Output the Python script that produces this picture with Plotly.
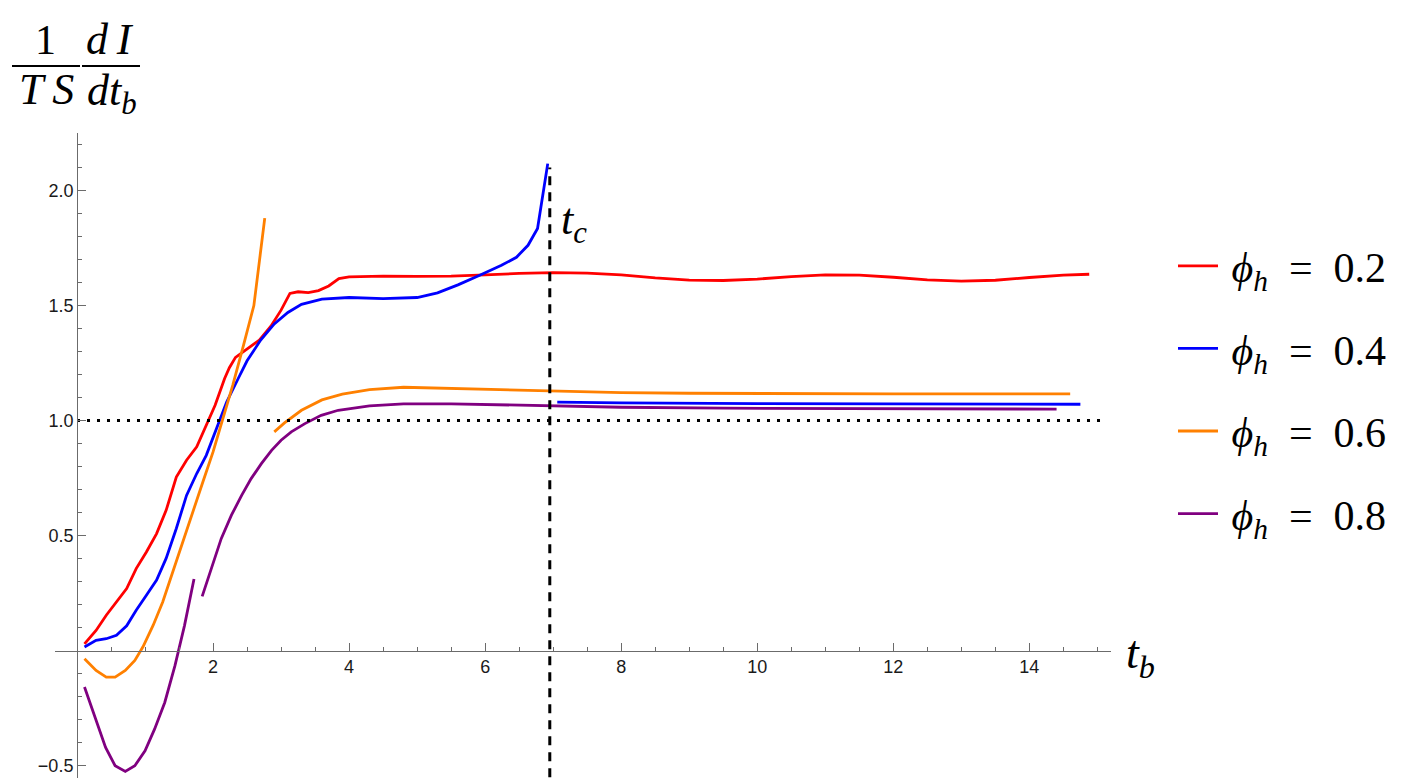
import plotly.graph_objects as go

# phi_h = 0.2
t_red = [0.11, 0.28, 0.43, 0.58, 0.73, 0.87, 1.02, 1.17, 1.31, 1.46, 1.61, 1.76, 1.90, 2.03,
         2.17, 2.24, 2.33, 2.5, 2.68, 2.85, 3.0, 3.13, 3.25, 3.4, 3.55, 3.7, 3.85, 4.0, 4.5,
         5.0, 5.5, 6.0, 6.5, 7.0, 7.5, 8.0, 8.5, 9.0, 9.5, 10.0, 10.5, 11.0, 11.5, 12.0,
         12.5, 13.0, 13.5, 14.0, 14.5, 14.88]
v_red = [0.030, 0.088, 0.154, 0.212, 0.270, 0.357, 0.429, 0.509, 0.610, 0.755, 0.828, 0.886,
         0.980, 1.067, 1.183, 1.23, 1.275, 1.31, 1.35, 1.41, 1.48, 1.553, 1.56, 1.556, 1.565,
         1.585, 1.617, 1.625, 1.628, 1.627, 1.628, 1.633, 1.64, 1.643, 1.641, 1.633, 1.62,
         1.611, 1.609, 1.615, 1.626, 1.633, 1.632, 1.623, 1.612, 1.606, 1.61, 1.622, 1.632, 1.636]

# phi_h = 0.4 (two branches)
t_blue = [0.11, 0.28, 0.43, 0.58, 0.73, 0.87, 1.02, 1.17, 1.31, 1.46, 1.61, 1.76, 1.90, 2.05,
          2.2, 2.37, 2.5, 2.7, 2.9, 3.1, 3.3, 3.6, 4.0, 4.5, 5.0, 5.3, 5.6, 5.92, 6.24, 6.46,
          6.63, 6.77, 6.92, None, 7.06, 8.0, 10.0, 12.0, 14.75]
v_blue = [0.016, 0.045, 0.052, 0.067, 0.108, 0.176, 0.241, 0.307, 0.401, 0.531, 0.675, 0.77,
          0.849, 0.965, 1.081, 1.183, 1.26, 1.35, 1.42, 1.47, 1.505, 1.528, 1.535, 1.53, 1.535,
          1.555, 1.59, 1.632, 1.675, 1.71, 1.762, 1.835, 2.117, None, 1.08, 1.077, 1.074,
          1.072, 1.071]

# phi_h = 0.6
t_orange = [0.11, 0.28, 0.43, 0.56, 0.71, 0.85, 0.97, 1.12, 1.26, 1.41, 1.56, 1.71, 1.85, 2.0,
            2.15, 2.29, 2.45, 2.6, 2.76, None, 2.9, 3.05, 3.3, 3.6, 3.9, 4.3, 4.8, 5.5, 6.2,
            7.0, 8.0, 9.0, 10.5, 12.0, 14.6]
v_orange = [-0.035, -0.086, -0.115, -0.115, -0.086, -0.042, 0.017, 0.111, 0.212, 0.342, 0.472,
            0.603, 0.733, 0.864, 1.009, 1.154, 1.33, 1.5, 1.88, None, 0.951, 0.99, 1.045, 1.09,
            1.115, 1.135, 1.145, 1.14, 1.134, 1.128, 1.122, 1.119, 1.117, 1.116, 1.116]

# phi_h = 0.8
t_purple = [0.11, 0.27, 0.42, 0.56, 0.71, 0.85, 1.0, 1.14, 1.29, 1.44, 1.58, 1.72, None, 1.84,
            1.98, 2.12, 2.27, 2.42, 2.56, 2.71, 2.86, 3.0, 3.15, 3.35, 3.59, 3.84, 4.3, 4.8,
            5.5, 6.2, 7.0, 8.0, 9.5, 11.0, 12.5, 14.4]
v_purple = [-0.158, -0.296, -0.42, -0.50, -0.525, -0.50, -0.435, -0.341, -0.225, -0.065, 0.109,
            0.312, None, 0.236, 0.357, 0.487, 0.589, 0.675, 0.748, 0.813, 0.871, 0.915, 0.951,
            0.987, 1.023, 1.045, 1.064, 1.073, 1.073, 1.068, 1.063, 1.058, 1.054, 1.052, 1.051,
            1.05]

labels = ["0.2", "0.4", "0.6", "0.8"]
colors = ["#ff0000", "#0000ff", "#ff8000", "#800080"]

t_c = 6.95
t_c_span = [-0.55, 2.1]
unit_span = [0.0, 15.1]

x_ticks = [2, 4, 6, 8, 10, 12, 14]
y_ticks = [-0.5, 0.5, 1.0, 1.5, 2.0]
y_ticktext = ["\u22120.5", "0.5", "1.0", "1.5", "2.0"]

x_range = [-0.3235, 15.2]
y_range = [-0.575, 2.25]

# plot area in pixels
L, R, T, B = 47, 1103, 125, 775


def px_x(px):
    return (px - L) / (R - L)


def px_y(py):
    return (B - py) / (B - T)


fig = go.Figure()

series = [(t_red, v_red), (t_blue, v_blue), (t_orange, v_orange), (t_purple, v_purple)]
for (t, v), lab, col in zip(series, labels, colors):
    fig.add_trace(go.Scatter(
        x=t, y=v, mode="lines", connectgaps=False,
        line=dict(color=col, width=2.8),
        name="\u2009<i>\u03d5</i><sub><i>h</i></sub>\u2002=\u2002" + lab,
        legendgroup=lab,
    ))

# reference lines
fig.add_trace(go.Scatter(x=unit_span, y=[1, 1], mode="lines", showlegend=False,
                         line=dict(color="black", width=3, dash="3px,7px")))
fig.add_trace(go.Scatter(x=[t_c, t_c], y=t_c_span, mode="lines", showlegend=False,
                         line=dict(color="black", width=3, dash="9px,7px")))

axis_col = "#6b6b6b"
tick_font = dict(family="Liberation Sans, Arial, sans-serif", size=18, color="#1a1a1a")

x_minor = [k * 0.5 for k in range(1, 31) if (k * 0.5) not in x_ticks]
y_minor = [round(k * 0.1, 1) for k in range(-5, 23)
           if round(k * 0.1, 1) not in y_ticks and k != 0]

fig.update_layout(
    width=1416, height=778,
    margin=dict(l=L, r=1416 - R, t=T, b=778 - B),
    plot_bgcolor="white", paper_bgcolor="white",
    xaxis=dict(
        range=x_range, anchor="free",
        position=(0 - y_range[0]) / (y_range[1] - y_range[0]),
        showgrid=False, zeroline=False, showline=True, linecolor=axis_col, linewidth=1,
        tickmode="array", tickvals=x_ticks, ticks="inside", ticklen=8, tickcolor=axis_col,
        tickfont=tick_font,
        minor=dict(tickmode="array", tickvals=x_minor, ticks="inside", ticklen=4,
                   tickcolor=axis_col),
    ),
    yaxis=dict(
        range=y_range, anchor="free",
        position=(0 - x_range[0]) / (x_range[1] - x_range[0]),
        showgrid=False, zeroline=False, showline=True, linecolor=axis_col, linewidth=1,
        tickmode="array", tickvals=y_ticks, ticktext=y_ticktext, ticks="inside", ticklen=8,
        tickcolor=axis_col, tickfont=tick_font,
        minor=dict(tickmode="array", tickvals=y_minor, ticks="inside", ticklen=4,
                   tickcolor=axis_col),
    ),
    legend=dict(
        x=px_x(1165), y=px_y(224), xanchor="left", yanchor="top",
        font=dict(family="Liberation Serif, Times New Roman, serif", size=42, color="black"),
        tracegroupgap=25, itemwidth=40, bgcolor="rgba(0,0,0,0)",
    ),
    showlegend=True,
)

serif = "Liberation Serif, Times New Roman, serif"


def note(text, px, py, size=40):
    fig.add_annotation(text=text, x=px_x(px), y=px_y(py), xref="paper", yref="paper",
                       showarrow=False, xanchor="center", yanchor="middle",
                       font=dict(family=serif, size=size, color="black"))


# axis label: 1/(TS) dI/dt_b
note("1", 37, 32, size=42)
note("<i>T\u2009S</i>", 38, 82, size=44)
note("<i>d\u2009I</i>", 102, 32, size=44)
note("<i>dt</i><sub><i>b</i></sub>", 104, 86, size=44)
for x0, x1 in [(4, 72), (74, 132)]:
    fig.add_shape(type="line", xref="paper", yref="paper",
                  x0=px_x(x0), x1=px_x(x1), y0=px_y(58), y1=px_y(58),
                  line=dict(color="black", width=2))

note("<i>t</i><sub><i>b</i></sub>", 1132, 648, size=46)
note("<i>t</i><sub><i>c</i></sub>", 566, 215, size=44)

fig.write_html("out.html")
